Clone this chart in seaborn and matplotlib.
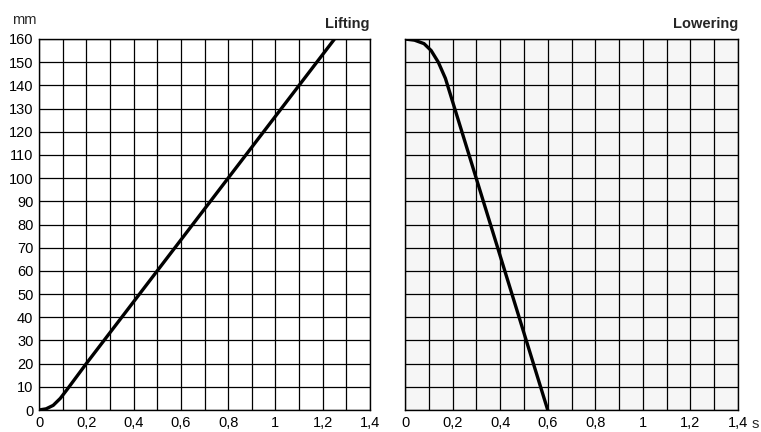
import matplotlib
matplotlib.use("Agg")
import matplotlib.pyplot as plt
import seaborn as sns
import numpy as np
import pandas as pd
from matplotlib.ticker import MultipleLocator, FuncFormatter

# data
lift_t = [0, 0.03, 0.06, 0.09, 0.12, 0.2, 1.25]
lift_mm = [0, 0.5, 2, 5, 9, 20, 160]
lower_t = [0, 0.04, 0.08, 0.11, 0.14, 0.17, 0.6]
lower_mm = [160, 159.5, 158, 155, 150, 143, 0]
x_ticks = [0, 0.2, 0.4, 0.6, 0.8, 1.0, 1.2, 1.4]
y_ticks = list(range(0, 161, 10))
titles = ["Lifting", "Lowering"]

sns.set_theme(style="white")
plt.rcParams['font.family'] = ['Liberation Sans', 'DejaVu Sans']

fig = plt.figure(figsize=(7.61, 4.32), dpi=100)
ax1 = fig.add_axes([39/761, 1-410/432, (370-39)/761, (410-39)/432])
ax2 = fig.add_axes([405/761, 1-410/432, (738-405)/761, (410-39)/432])

df1 = pd.DataFrame({"t": lift_t, "mm": lift_mm})
df2 = pd.DataFrame({"t": lower_t, "mm": lower_mm})
sns.lineplot(data=df1, x="t", y="mm", ax=ax1, color="black", lw=2.4, sort=False, zorder=5)
sns.lineplot(data=df2, x="t", y="mm", ax=ax2, color="black", lw=2.4, sort=False, zorder=5)

def fmt(v, pos):
    s = f"{v:.1f}".rstrip("0").rstrip(".")
    return s.replace(".", ",")

for ax, title in zip([ax1, ax2], titles):
    ax.set_xlim(0, 1.4)
    ax.set_ylim(0, 160)
    ax.set_xticks(x_ticks)
    ax.xaxis.set_major_formatter(FuncFormatter(fmt))
    ax.set_yticks(y_ticks)
    ax.xaxis.set_minor_locator(MultipleLocator(0.1))
    ax.grid(True, which="both", axis="x", color="black", lw=0.9)
    ax.grid(True, which="major", axis="y", color="black", lw=0.9)
    ax.tick_params(which="both", length=0, labelsize=10.5, colors="black", pad=4)
    for sp in ax.spines.values():
        sp.set_color("black")
        sp.set_linewidth(1.0)
        sp.set_visible(True)
    ax.set_xlabel("")
    ax.set_ylabel("")
    ax.set_title(title, loc="right", fontweight="bold", fontsize=10.5, pad=8)
    ax.set_axisbelow(True)

ax2.set_yticklabels([])
ax2.set_facecolor("#f6f6f6")

fig.text(12/761, 1-20/432, "mm", fontsize=10.5, ha="left", va="center")
fig.text(752/761, 1-424/432, "s", fontsize=10.5, ha="left", va="center")

fig.savefig("out.png", dpi=100, facecolor="white")
